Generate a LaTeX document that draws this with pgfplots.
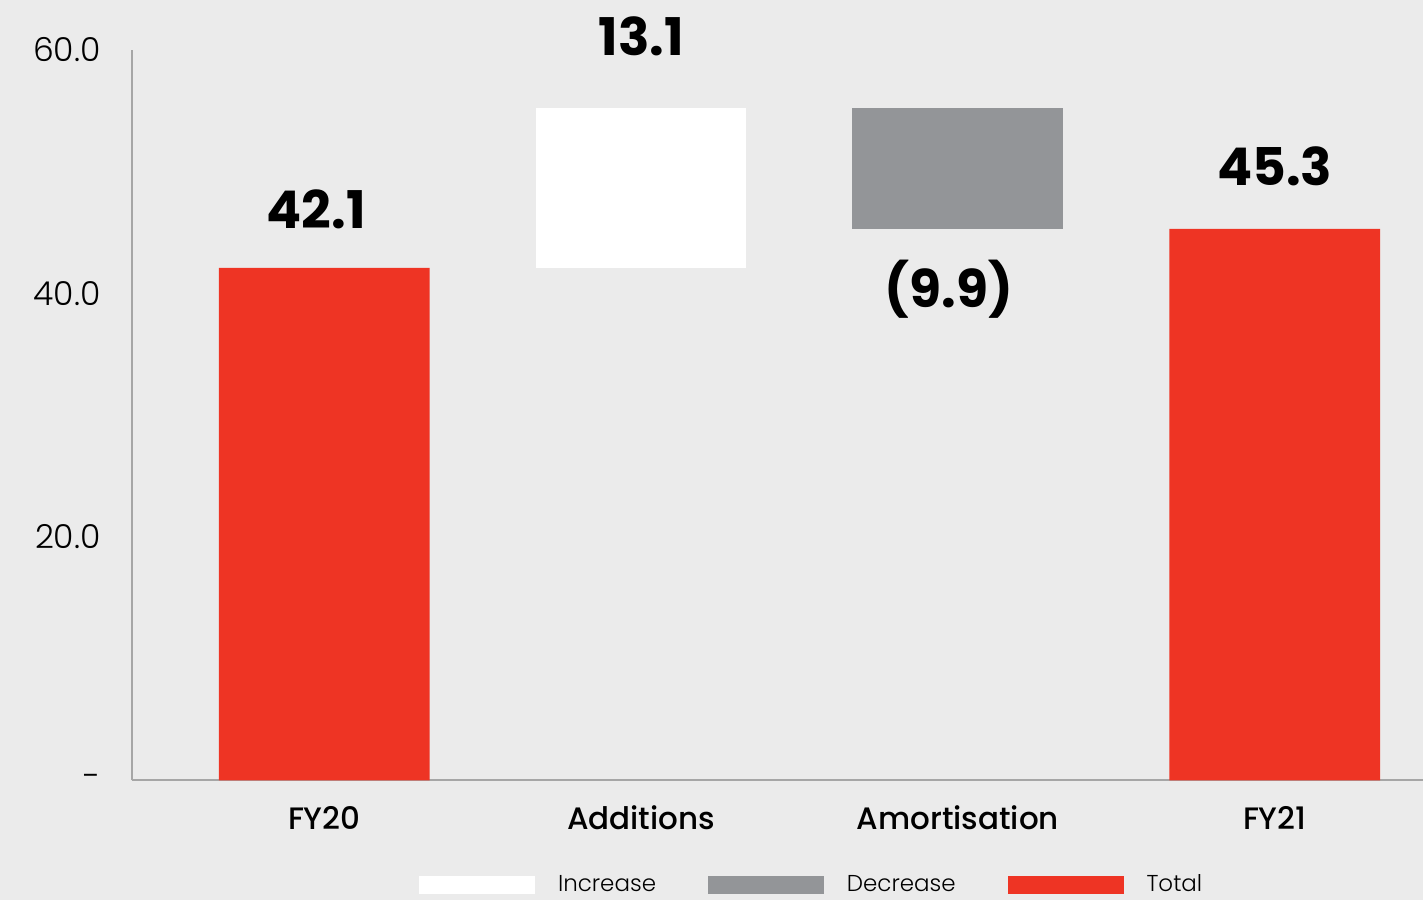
\documentclass[border=0pt]{standalone}
\usepackage{fontspec}
\setmainfont{Poppins}
\newfontfamily\poplight{Poppins Light}
\newfontfamily\popmed{Poppins Medium}
\usepackage{pgfplots}
\pgfplotsset{compat=1.18}
\definecolor{bg}{HTML}{EBEBEB}
\definecolor{tred}{HTML}{EE3424}
\definecolor{tgray}{HTML}{939598}
\definecolor{axgray}{HTML}{A6A6A6}
\begin{document}
\begin{tikzpicture}
\fill[bg] (-66pt,-60pt) rectangle (646pt,390.5pt);
\begin{axis}[
  at={(0,0)}, anchor=south west,
  scale only axis, width=646pt, height=365.5pt,
  xmin=-0.607, xmax=3.468, ymin=0, ymax=60,
  ybar stacked, bar width=105.5pt,
  axis x line*=bottom, axis y line*=left,
  axis line style={axgray, line width=1pt, -},
  major tick length=0pt,
  xtick={0,1,2,3},
  xticklabels={FY20,Additions,Amortisation,FY21},
  xticklabel style={anchor=base, inner sep=0pt, yshift=-24.5pt, font=\popmed\fontsize{15.5}{19}\selectfont},
  ytick={0,20,40,60},
  yticklabels={-,20.0,40.0,60.0},
  yticklabel style={anchor=east, inner sep=0pt, xshift=-15.5pt, font=\poplight\fontsize{16.5}{19}\selectfont},
  legend style={draw=none, fill=none, at={(axis cs:-0.607,0)}, anchor=north west,
    xshift=140.5pt, yshift=-45pt, legend columns=3,
    font=\poplight\fontsize{11.5}{14}\selectfont,
    /tikz/every even column/.append style={column sep=26pt},
    nodes={inner sep=0pt}},
  legend image code/.code={\fill[#1] (0pt,-4.5pt) rectangle (58pt,4.5pt); \path (69.5pt,0pt);},
  clip=false,
]
\addplot[fill=bg, draw=none, fill opacity=0] coordinates {(0,0) (1,42.1) (2,45.3) (3,0)};
\addplot[fill=white, draw=none] coordinates {(0,0) (1,13.1) (2,0) (3,0)};
\addplot[fill=tgray, draw=none] coordinates {(0,0) (1,0) (2,9.9) (3,0)};
\addplot[fill=tred, draw=none] coordinates {(0,42.1) (1,0) (2,0) (3,45.3)};
\legend{,Increase,Decrease,Total}
\node[font=\bfseries\fontsize{26}{30}\selectfont, anchor=base, inner sep=0pt, yshift=19.5pt, xshift=-4pt] at (axis cs:0,42.1) {42.1};
\node[font=\bfseries\fontsize{26}{30}\selectfont, anchor=base, inner sep=0pt, yshift=26.5pt] at (axis cs:1,55.2) {13.1};
\node[font=\bfseries\fontsize{26}{30}\selectfont, anchor=base, inner sep=0pt, yshift=-39.5pt, xshift=-4.5pt] at (axis cs:2,45.3) {(9.9)};
\node[font=\bfseries\fontsize{26}{30}\selectfont, anchor=base, inner sep=0pt, yshift=21.5pt] at (axis cs:3,45.3) {45.3};
\end{axis}
\end{tikzpicture}
\end{document}
